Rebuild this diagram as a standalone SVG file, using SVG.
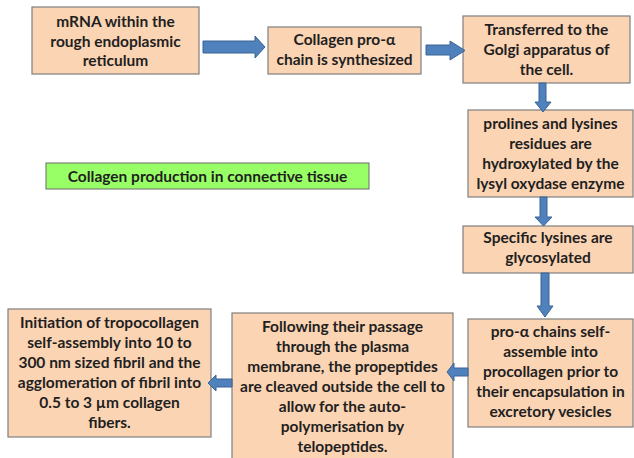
<svg xmlns="http://www.w3.org/2000/svg" width="634" height="458" viewBox="0 0 634 458">
<style>
.box{fill:#FBD4B4;stroke:#7F7F7F;stroke-width:1.2}
.lbl{fill:#99FF66;stroke:#6a6a6a;stroke-width:1}
.arr{fill:#4F81BD;stroke:#3A6494;stroke-width:1}
text{font-family:Lato,"Open Sans","Liberation Sans",sans-serif;font-weight:bold;font-size:15.5px;fill:#1F1F1F;text-anchor:middle}
</style>
<rect width="634" height="458" fill="#ffffff"/>
<g id="n1"><rect class="box" x="32" y="7" width="167" height="67"/>
<text x="115.5" y="27">mRNA within the</text><text x="115.5" y="46.5">rough endoplasmic</text><text x="115.5" y="66">reticulum</text></g>
<g id="n2"><rect class="box" x="268" y="27" width="153" height="47"/>
<text x="344.5" y="45">Collagen pro-α</text><text x="344.5" y="65">chain is synthesized</text></g>
<g id="n3"><rect class="box" x="463" y="16" width="167" height="67"/>
<text x="546.5" y="35">Transferred to the</text><text x="546.5" y="55">Golgi apparatus of</text><text x="546.5" y="75">the cell.</text></g>
<g id="n4"><rect class="box" x="468" y="110" width="165" height="87"/>
<text x="550.5" y="129">prolines and lysines</text><text x="550.5" y="149">residues are</text><text x="550.5" y="169">hydroxylated by the</text><text x="550.5" y="189">lysyl oxydase enzyme</text></g>
<g id="n5"><rect class="box" x="463" y="226" width="170" height="47"/>
<text x="548" y="243">Specific lysines are</text><text x="548" y="263">glycosylated</text></g>
<g id="n6"><rect class="box" x="468" y="319" width="165" height="108"/>
<text x="550.5" y="337">pro-α chains self-</text><text x="550.5" y="357">assemble into</text><text x="550.5" y="377">procollagen prior to</text><text x="550.5" y="397">their encapsulation in</text><text x="550.5" y="417">excretory vesicles</text></g>
<g id="n7"><rect class="box" x="232" y="313" width="221" height="150"/>
<text x="342.5" y="332">Following their passage</text><text x="342.5" y="352">through the plasma</text><text x="342.5" y="372">membrane, the propeptides</text><text x="342.5" y="392">are cleaved outside the cell to</text><text x="342.5" y="412">allow for the auto-</text><text x="342.5" y="432">polymerisation by</text><text x="342.5" y="452">telopeptides.</text></g>
<g id="n8"><rect class="box" x="8" y="309" width="203" height="128"/>
<text x="109.5" y="328">Initiation of tropocollagen</text><text x="109.5" y="348">self-assembly into 10 to</text><text x="109.5" y="368">300 nm sized fibril and the</text><text x="109.5" y="388">agglomeration of fibril into</text><text x="109.5" y="408">0.5 to 3 µm collagen</text><text x="109.5" y="428">fibers.</text></g>
<g id="title"><rect class="lbl" x="46" y="163" width="323" height="26"/>
<text x="207.5" y="182">Collagen production in connective tissue</text></g>
<g id="connectors">
<path class="arr" d="M203,41 H255 V36 L265,47 L255,58 V53 H203 Z"/>
<path class="arr" d="M426,45 H450 V41 L465,50.5 L450,60 V55 H426 Z"/>
<path class="arr" d="M539,83 V102 H535 L543,112 L551,102 H546 V83 Z"/>
<path class="arr" d="M540,197 V217 H535 L543.5,226 L552,217 H547 V197 Z"/>
<path class="arr" d="M541,273 V306 H537 L545,317 L553,306 H549 V273 Z"/>
<path class="arr" d="M468,368 H454 V363 L447,372 L454,381 V376 H468 Z"/>
<path class="arr" d="M232,379 H216 V375 L208,383 L216,391 V387 H232 Z"/>
</g>
</svg>
